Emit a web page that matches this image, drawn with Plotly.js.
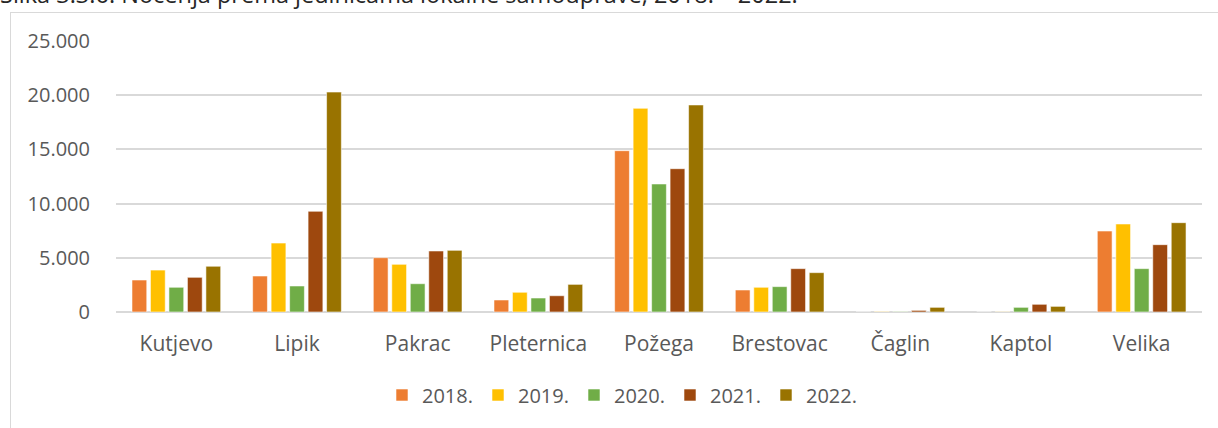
<!DOCTYPE html>
<html>
<head>
<meta charset="utf-8">
<script src="https://cdn.plot.ly/plotly-3.0.1.min.js"></script>
<style>
  html, body { margin: 0; padding: 0; background: #ffffff; overflow: hidden; }
  #frame { position: absolute; left: 10px; top: 12px; width: 1400px; height: 600px; border: 1px solid #d9d9d9; }
  #chart { position: absolute; left: 0; top: 0; width: 1218px; height: 428px; }
</style>
</head>
<body>
<div id="frame"></div>
<div id="chart"></div>
<script>
const categories = ["Kutjevo", "Lipik", "Pakrac", "Pleternica", "Požega", "Brestovac", "Čaglin", "Kaptol", "Velika"];
const seriesNames = ["2018.", "2019.", "2020.", "2021.", "2022."];
const v2018 = [2950, 3320, 5010, 1110, 14880, 2030, 0, 0, 7470];
const v2019 = [3870, 6360, 4400, 1820, 18790, 2280, 40, 20, 8120];
const v2020 = [2280, 2400, 2610, 1290, 11810, 2340, 40, 430, 4000];
const v2021 = [3200, 9290, 5630, 1500, 13220, 4000, 150, 710, 6210];
const v2022 = [4220, 20290, 5690, 2550, 19100, 3630, 430, 520, 8240];
const colors = ["#ED7D31", "#FFC000", "#70AD47", "#9E480E", "#997300"];
const caption = "Slika 3.3.6. Noćenja prema jedinicama lokalne samouprave, 2018. – 2022.";

const values = [v2018, v2019, v2020, v2021, v2022];
const traces = values.map((vals, i) => ({
  type: "bar",
  name: seriesNames[i],
  x: categories,
  y: vals,
  marker: { color: colors[i], line: { color: "rgba(255,255,255,0.7)", width: 0.8 } },
  hoverinfo: "x+y+name"
}));

const W = 1218, H = 428;
const mL = 116, mR = 16, mT = 41, mB = 116;
const plotH = H - mT - mB;

const layout = {
  width: W, height: H,
  margin: { l: mL, r: mR, t: mT, b: mB, pad: 0 },
  paper_bgcolor: "rgba(0,0,0,0)",
  plot_bgcolor: "rgba(0,0,0,0)",
  separators: ",.",
  barmode: "group",
  bargap: 0.234,
  bargroupgap: 0.2,
  font: { family: "'Open Sans', 'Noto Sans', sans-serif", size: 20, color: "#595959" },
  xaxis: {
    type: "category",
    showgrid: false,
    showline: false,
    zeroline: false,
    ticks: "",
    ticklabelstandoff: 17,
    tickfont: { size: 21, color: "#595959" }
  },
  yaxis: {
    range: [0, 25000],
    dtick: 5000,
    tick0: 0,
    tickformat: ",d",
    showgrid: true,
    gridcolor: "#d9d9d9",
    gridwidth: 1.5,
    zeroline: true,
    zerolinecolor: "#d9d9d9",
    zerolinewidth: 1.5,
    showline: false,
    ticks: "",
    ticklabelstandoff: 25,
    tickfont: { size: 20, color: "#595959" },
    fixedrange: true
  },
  legend: {
    orientation: "h",
    x: (622 - mL) / (W - mL - mR),
    xanchor: "center",
    y: (mT + plotH - 395) / plotH,
    yanchor: "middle",
    font: { size: 20, color: "#595959" },
    traceorder: "normal",
    itemwidth: 30,
    itemclick: false,
    bgcolor: "rgba(0,0,0,0)"
  },
  annotations: [{
    text: caption,
    xref: "paper", yref: "paper",
    x: (-2 - mL) / (W - mL - mR),
    xanchor: "left",
    y: (mT + plotH - 12) / plotH,
    yanchor: "bottom",
    showarrow: false,
    font: { size: 23.5, color: "#262626", family: "'Open Sans', 'Noto Sans', sans-serif" }
  }],
  showlegend: true
};

Plotly.newPlot("chart", traces, layout, { displayModeBar: false, staticPlot: false });
</script>
</body>
</html>
